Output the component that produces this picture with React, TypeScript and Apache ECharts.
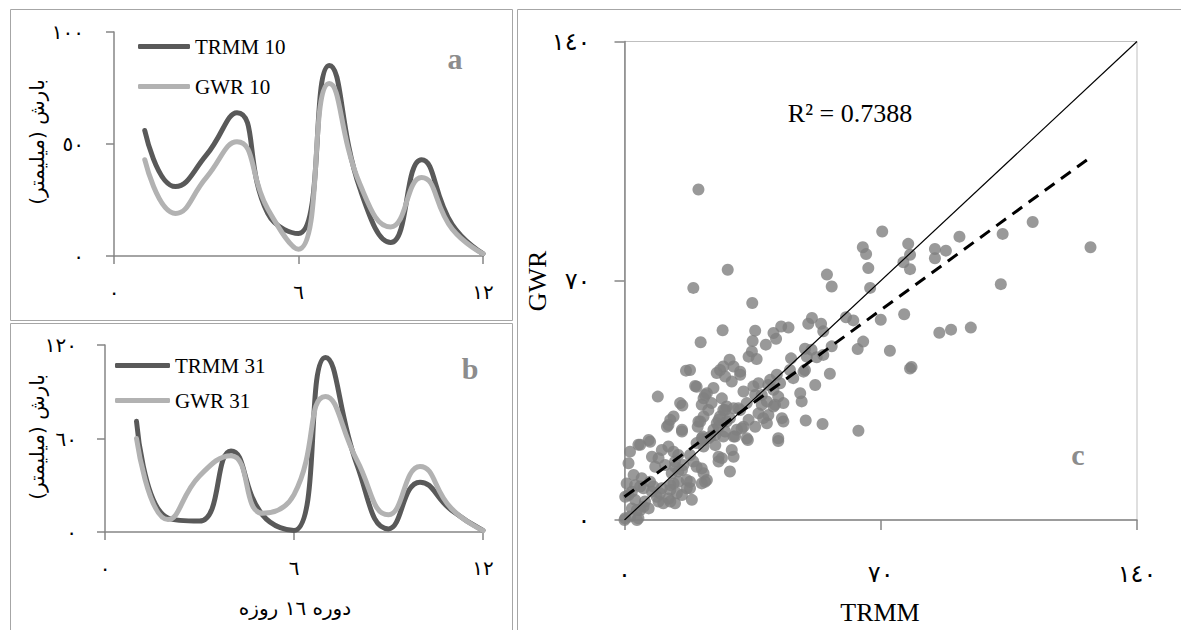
import React, { useEffect, useRef } from "react";
import * as echarts from "echarts";

// ---- Data ----
const periods = [1, 2, 3, 4, 5, 6, 7, 8, 9, 10, 11, 12];
const trmm10 = [56, 31, 45, 64, 19, 10, 85, 30, 6, 43, 14, 1];
const gwr10 = [43, 19, 35, 51, 21, 3, 77, 32, 13, 35, 12, 1];
const trmm31 = [71, 9, 7, 52, 11, 1, 112, 43, 2, 32, 14, 1];
const gwr31 = [60, 8, 36, 49, 12, 24, 87, 46, 11, 42, 15, 1];

const xTicksAB = [0, 6, 12];
const yTicksA = [0, 50, 100];
const yTicksB = [0, 60, 120];
const ticksC = [0, 70, 140];

// scatter (TRMM, GWR)
const scatterPts: number[][] = [
  [20.2, 96.7], [28.2, 73.2], [18.8, 67.9], [34.9, 63.5], [26.8, 55.5], [20.8, 52.0],
  [55.3, 71.8], [56.6, 68.3], [67.1, 67.9], [66.6, 73.7], [65.1, 79.8], [66.0, 77.8],
  [70.4, 84.4], [77.5, 80.8], [78.0, 77.6], [76.2, 75.4], [78.0, 73.4], [84.8, 79.3],
  [87.8, 78.8], [84.8, 76.6], [91.5, 82.9], [103.3, 83.7], [111.5, 87.2], [102.8, 69.0],
  [127.3, 79.8], [76.4, 60.2], [86.0, 54.8], [89.2, 55.7], [94.6, 56.3], [78.0, 44.3],
  [78.4, 44.8], [70.0, 58.6], [72.5, 49.5], [65.2, 52.2], [63.7, 50.0], [60.5, 59.3],
  [62.5, 58.4], [63.9, 26.1], [50.2, 57.4], [51.2, 59.1], [53.7, 57.4], [54.3, 55.2],
  [35.7, 55.4], [40.7, 54.7], [42.8, 56.6], [44.8, 56.3], [35.0, 52.4], [38.6, 51.3],
  [41.4, 53.0], [34.8, 49.3], [33.9, 47.8], [36.1, 47.1], [49.3, 50.1], [51.1, 49.8],
  [49.8, 47.8], [56.6, 50.8], [54.3, 48.3], [52.5, 47.6], [45.5, 47.3], [49.3, 43.9],
  [48.9, 43.4], [56.1, 42.8], [28.7, 46.9], [27.0, 44.9], [29.8, 44.9], [31.6, 43.4],
  [25.2, 43.0], [27.5, 42.0], [29.3, 40.5], [31.6, 42.5], [26.1, 43.9], [16.8, 43.7],
  [17.9, 43.9], [19.3, 39.2], [9.1, 36.1], [15.8, 33.5], [24.3, 38.6], [22.5, 37.1],
  [21.6, 35.6], [21.1, 33.7], [32.5, 37.6], [35.2, 39.1], [36.6, 40.0], [41.6, 42.5],
  [42.5, 40.0], [46.1, 41.5], [45.2, 43.9], [39.8, 41.0], [48.0, 37.1], [48.4, 34.7],
  [52.1, 39.5], [42.0, 36.1], [38.9, 34.7], [40.7, 33.2], [43.4, 34.2], [36.6, 31.2],
  [37.9, 29.8], [38.9, 28.3], [43.4, 28.8], [49.5, 29.1], [54.1, 28.1], [27.0, 32.2],
  [27.9, 33.2], [29.8, 32.7], [31.6, 32.2], [26.1, 30.3], [25.2, 28.3], [27.9, 28.8],
  [32.5, 27.3], [30.7, 26.4], [29.8, 24.4], [27.0, 24.4], [33.7, 23.4], [42.0, 23.1],
  [20.7, 28.8], [21.4, 24.4], [20.0, 27.3], [12.5, 29.3], [13.4, 30.3], [12.0, 27.8],
  [15.7, 25.9], [15.2, 34.2], [11.6, 27.3], [15.7, 26.4], [19.7, 39.0], [22.0, 36.6],
  [23.8, 34.2], [22.9, 32.2], [21.6, 30.3], [20.2, 28.8], [26.6, 35.6], [27.5, 32.2],
  [25.7, 29.3], [28.8, 29.8], [31.1, 32.7], [33.4, 34.2], [35.7, 36.6], [37.5, 33.7],
  [39.3, 30.7], [41.1, 33.7], [43.0, 29.8], [42.0, 23.9], [33.9, 29.3], [35.7, 27.3],
  [32.0, 26.8], [30.2, 24.4], [33.4, 23.9], [27.5, 25.9], [24.8, 24.9], [22.9, 23.9],
  [21.1, 23.9], [24.8, 21.9], [25.7, 18.5], [29.3, 20.5], [29.8, 18.5], [28.8, 14.2],
  [25.7, 17.1], [21.6, 13.7], [22.0, 11.2], [17.9, 9.3], [21.1, 15.1], [6.6, 23.4],
  [3.8, 22.0], [1.5, 20.0], [1.1, 16.6], [7.5, 18.5], [10.2, 20.5], [12.0, 21.5],
  [13.4, 20.0], [14.7, 19.0], [9.3, 18.1], [8.4, 15.6], [11.1, 16.1], [13.8, 17.1],
  [16.1, 16.1], [14.7, 14.2], [2.5, 13.2], [4.7, 12.2], [7.0, 11.2], [2.9, 10.2],
  [5.2, 9.3], [7.5, 8.3], [10.2, 9.3], [12.5, 10.2], [14.7, 11.2], [17.0, 11.7],
  [1.1, 7.3], [2.9, 5.9], [5.6, 5.4], [9.3, 5.4], [12.0, 6.3], [13.8, 4.9],
  [2.0, 3.4], [4.3, 2.9], [6.6, 3.4], [0, 0], [3.4, 0], [1.5, 1.0],
  [18.4, 5.9], [15.7, 7.3], [4.3, 22.0], [7.0, 22.9], [17.9, 19.0], [18.8, 17.1],
  [19.7, 15.6], [21.6, 21.5], [26.6, 18.1], [22.5, 11.7], [21.1, 10.7], [13.4, 10.7],
  [17.0, 9.3], [17.9, 11.2], [12.5, 8.8], [14.3, 7.8], [10.6, 4.9], [12.5, 5.4],
  [5.2, 3.9], [3.4, 2.9], [0.2, 0.5], [3.8, 0.5], [8.8, 6.8], [9.7, 7.8],
  [7.9, 9.8], [15.7, 14.6], [13.8, 15.6], [12.9, 13.7], [19.7, 22.5], [21.6, 23.4],
  [23.4, 24.4], [24.3, 26.4], [25.7, 27.3], [0.2, 6.8], [2.0, 8.3], [4.3, 9.8],
  [0.6, 10.7], [40.7, 38.1], [39.3, 39.5], [37.5, 36.6],
];
const oneToOneLine = [[0, 0], [140, 140]];
const trendLine = [[0, 6.8], [127, 105.9]];
const r2Text = "R² = 0.7388";

// ---- helpers ----
const AR = "٠١٢٣٤٥٦٧٨٩";
const toAr = (v: number | string) => String(v).replace(/\d/g, (d) => AR[+d]);
const SERIF = "'Liberation Serif', 'Times New Roman', 'DejaVu Sans', serif";
const AXIS_COLOR = "#868686";

function valAxis(gi: number, ticks: number[], tickLen: number, margin: number, fs: number) {
  return {
    type: "value",
    gridIndex: gi,
    min: ticks[0],
    max: ticks[ticks.length - 1],
    interval: ticks[1] - ticks[0],
    axisLine: { show: true, lineStyle: { color: AXIS_COLOR, width: 1.5 } },
    axisTick: { show: true, length: tickLen, lineStyle: { color: AXIS_COLOR, width: 1.5 } },
    splitLine: { show: false },
    axisLabel: {
      formatter: (v: number) => toAr(v),
      fontSize: fs,
      color: "#000",
      fontFamily: SERIF,
      margin,
    },
  };
}

const mkLine = (name: string, data: number[], color: string, xi: number) => ({
  name,
  type: "line",
  xAxisIndex: xi,
  yAxisIndex: xi,
  data: periods.map((p, i) => [p, data[i]]),
  smooth: 0.5,
  symbol: "none",
  lineStyle: { color, width: 5, cap: "round" },
  itemStyle: { color },
});

const text = (t: string, x: number, y: number, fs: number, opts: any = {}) => ({
  type: "text",
  x,
  y,
  rotation: opts.rotation || 0,
  z: 100,
  style: {
    text: t,
    fontSize: fs,
    fontFamily: opts.fontFamily || SERIF,
    fontWeight: opts.fontWeight || "normal",
    fill: opts.fill || "#000",
    align: "center",
    verticalAlign: "middle",
  },
});

const rect = (x: number, y: number, w: number, h: number) => ({
  type: "rect",
  shape: { x, y, width: w, height: h },
  z: -1,
  style: { fill: "none", stroke: "#a6a6a6", lineWidth: 1 },
});

const legendBase = {
  orient: "vertical",
  icon: "roundRect",
  itemHeight: 5,
  selectedMode: false,
  textStyle: { fontSize: 21, fontFamily: SERIF, color: "#000", padding: [0, 0, 0, 0] },
};

export default function App() {
  const ref = useRef<HTMLDivElement>(null);
  useEffect(() => {
    if (!ref.current) return;
    const chart = echarts.init(ref.current, undefined, { renderer: "svg" });
    const option: any = {
      animation: false,
      backgroundColor: "#fff",
      grid: [
        { left: 114, top: 32, width: 369, height: 224 },
        { left: 105, top: 345, width: 378, height: 187 },
        {
          left: 624.5, top: 41.5, width: 512.5, height: 478.5,
          show: true, borderColor: "#bfbfbf", borderWidth: 1,
        },
      ],
      xAxis: [
        valAxis(0, xTicksAB, 8, 26, 20),
        valAxis(1, xTicksAB, 8, 26, 20),
        valAxis(2, ticksC, 10, 42, 24),
      ],
      yAxis: [
        valAxis(0, yTicksA, 8, 30, 20),
        valAxis(1, yTicksB, 8, 28, 20),
        valAxis(2, ticksC, 10, 34, 24),
      ],
      legend: [
        {
          ...legendBase,
          left: 133, top: 31, itemWidth: 52, itemGap: 19,
          data: ["TRMM 10", "GWR 10"],
        },
        {
          ...legendBase,
          left: 110, top: 350, itemWidth: 55, itemGap: 14,
          data: ["TRMM 31", "GWR 31"],
        },
      ],
      series: [
        mkLine("TRMM 10", trmm10, "#595959", 0),
        mkLine("GWR 10", gwr10, "#b2b2b2", 0),
        mkLine("TRMM 31", trmm31, "#595959", 1),
        mkLine("GWR 31", gwr31, "#b2b2b2", 1),
        {
          type: "scatter",
          xAxisIndex: 2,
          yAxisIndex: 2,
          data: scatterPts,
          symbolSize: 12,
          itemStyle: { color: "#808080" },
        },
        {
          type: "line",
          xAxisIndex: 2,
          yAxisIndex: 2,
          data: oneToOneLine,
          symbol: "none",
          lineStyle: { color: "#000", width: 1.2 },
          z: 5,
        },
        {
          type: "line",
          xAxisIndex: 2,
          yAxisIndex: 2,
          data: trendLine,
          symbol: "none",
          lineStyle: { color: "#000", width: 3, type: [12, 8] },
          z: 5,
        },
      ],
      graphic: [
        rect(10.5, 9.5, 502, 311),
        rect(10.5, 323.5, 502, 320),
        rect(517.5, 9.5, 700, 640),
        text("بارش (میلیمتر)", 37, 142, 20, { rotation: Math.PI / 2, fontFamily: "'DejaVu Sans', sans-serif" }),
        text("بارش (میلیمتر)", 37, 437, 20, { rotation: Math.PI / 2, fontFamily: "'DejaVu Sans', sans-serif" }),
        text("دوره ١٦ روزه", 295, 608, 20, { fontFamily: "'DejaVu Sans', sans-serif" }),
        text("GWR", 537, 281, 26, { rotation: Math.PI / 2 }),
        text("TRMM", 880, 612, 26),
        text(r2Text, 850, 113, 26),
        text("a", 455, 58, 30, { fontWeight: "bold", fill: "#8c8c8c" }),
        text("b", 470, 368, 30, { fontWeight: "bold", fill: "#8c8c8c" }),
        text("c", 1078, 454, 30, { fontWeight: "bold", fill: "#8c8c8c" }),
      ],
    };
    chart.setOption(option);
    return () => chart.dispose();
  }, []);
  return (
    <div
      ref={ref}
      style={{ position: "fixed", left: 0, top: 0, width: 1181, height: 630, background: "#fff" }}
    />
  );
}
